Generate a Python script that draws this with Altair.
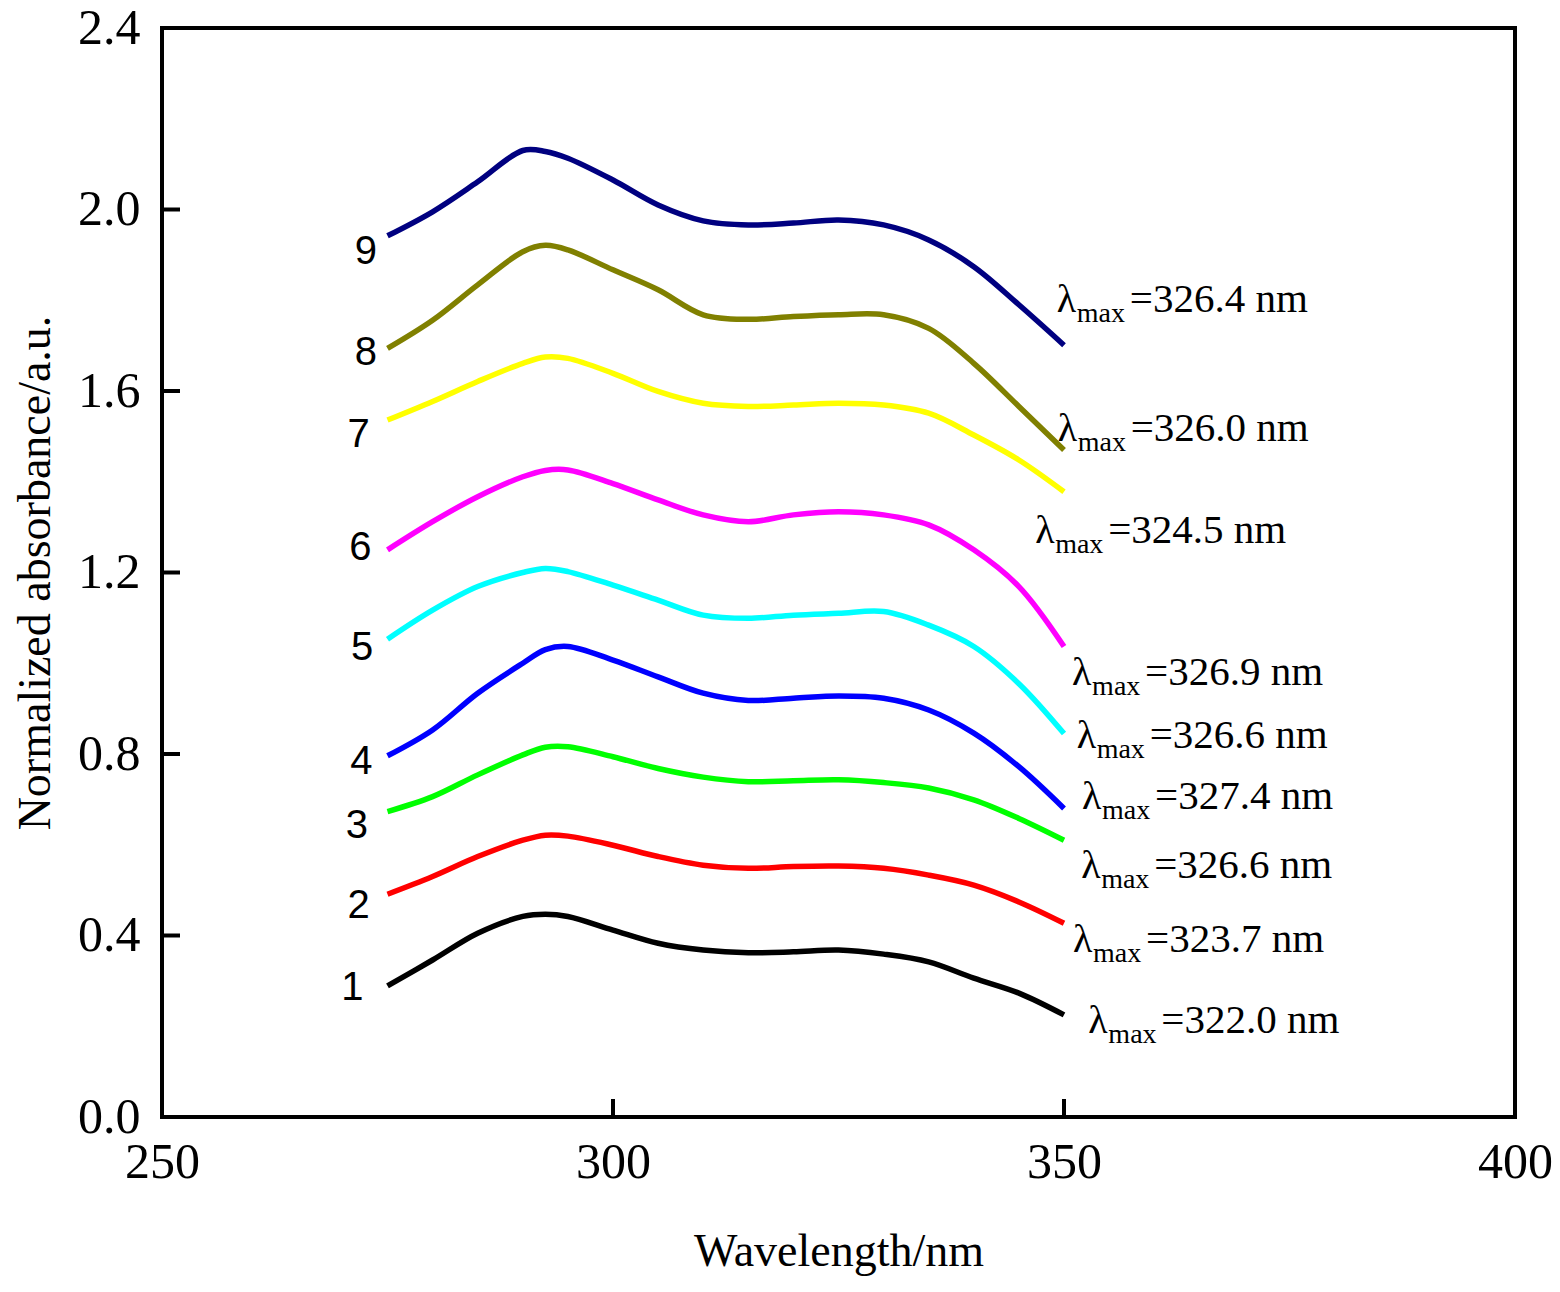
import pandas as pd
import altair as alt

# wavelength grid (nm)
wavelength = [275, 280, 285, 290, 292.5, 295, 300, 305, 310, 315, 320, 325, 330, 335, 340, 345, 350]

# normalized absorbance of each spectrum (curve 1 at the bottom ... 9 at the top)
s1 = [0.289, 0.346, 0.405, 0.442, 0.447, 0.442, 0.412, 0.383, 0.368, 0.362, 0.364, 0.368, 0.359, 0.342, 0.306, 0.273, 0.225]
s2 = [0.491, 0.530, 0.574, 0.610, 0.621, 0.619, 0.599, 0.574, 0.555, 0.548, 0.552, 0.553, 0.548, 0.533, 0.511, 0.474, 0.427]
s3 = [0.673, 0.706, 0.754, 0.798, 0.815, 0.816, 0.794, 0.768, 0.749, 0.739, 0.741, 0.743, 0.737, 0.725, 0.699, 0.658, 0.610]
s4 = [0.796, 0.853, 0.934, 1.000, 1.030, 1.037, 1.007, 0.970, 0.934, 0.918, 0.923, 0.928, 0.923, 0.897, 0.846, 0.772, 0.680]
s5 = [1.053, 1.117, 1.169, 1.200, 1.209, 1.202, 1.172, 1.139, 1.106, 1.099, 1.106, 1.110, 1.114, 1.084, 1.037, 0.955, 0.845]
s6 = [1.250, 1.312, 1.367, 1.411, 1.425, 1.426, 1.396, 1.360, 1.327, 1.312, 1.327, 1.334, 1.327, 1.305, 1.250, 1.169, 1.037]
s7 = [1.536, 1.577, 1.621, 1.661, 1.675, 1.672, 1.639, 1.599, 1.573, 1.566, 1.569, 1.573, 1.569, 1.551, 1.503, 1.448, 1.378]
s8 = [1.694, 1.756, 1.834, 1.907, 1.921, 1.911, 1.867, 1.823, 1.768, 1.758, 1.764, 1.768, 1.768, 1.738, 1.661, 1.566, 1.470]
s9 = [1.942, 1.995, 2.061, 2.130, 2.128, 2.113, 2.065, 2.010, 1.975, 1.966, 1.970, 1.977, 1.966, 1.933, 1.874, 1.790, 1.701]

series = [s1, s2, s3, s4, s5, s6, s7, s8, s9]
names = ['1', '2', '3', '4', '5', '6', '7', '8', '9']
colors = ['#000000', '#ff0000', '#00ff00', '#0000ff', '#00ffff', '#ff00ff', '#ffff00', '#808000', '#000080']

# curve number labels (left of each curve)
num_x = [271.1, 271.8, 271.6, 272.1, 272.2, 272.0, 271.8, 272.6, 272.6]
num_y = [0.284, 0.465, 0.641, 0.782, 1.034, 1.254, 1.503, 1.684, 1.906]

# lambda max annotations (left edge / baseline)
lam_val = ['322.0', '323.7', '326.6', '327.4', '326.6', '326.9', '324.5', '326.0', '326.4']
lam_x = [352.7, 351.0, 351.9, 352.0, 351.4, 350.9, 346.8, 349.3, 349.2]
lam_y = [0.185, 0.364, 0.527, 0.679, 0.813, 0.952, 1.265, 1.490, 1.774]

x_ticks = [300, 350]
y_ticks = [0.4, 0.8, 1.2, 1.6, 2.0]

rows = []
for n, s in zip(names, series):
    for w, v in zip(wavelength, s):
        rows.append({'curve': n, 'wl': w, 'abs': v})
df = pd.DataFrame(rows)

W, H = 1353, 1089
xscale = alt.Scale(domain=[250, 400], nice=False, zero=False)
yscale = alt.Scale(domain=[0, 2.4], nice=False)
serif = 'Liberation Serif'

# same axis objects on every layer so they merge into one
xaxis = alt.Axis(values=[250, 300, 350, 400], format='d', title='Wavelength/nm',
                 labelPadding=20, titlePadding=42, labelFlush=False)
yaxis = alt.Axis(values=[0, 0.4, 0.8, 1.2, 1.6, 2.0, 2.4], format='.1f',
                 title='Normalized absorbance/a.u.', labelPadding=22, titlePadding=18,
                 labelFlush=False)

lines = alt.Chart(df).mark_line(strokeWidth=5.5, interpolate='catmull-rom').encode(
    x=alt.X('wl:Q', scale=xscale, axis=xaxis),
    y=alt.Y('abs:Q', scale=yscale, axis=yaxis),
    color=alt.Color('curve:N', scale=alt.Scale(domain=names, range=colors), legend=None),
    detail='curve:N'
)

ytick = alt.Chart(pd.DataFrame({'v': y_ticks})).mark_rule(color='black', strokeWidth=4).encode(
    y=alt.Y('v:Q', scale=yscale, axis=yaxis),
    x=alt.value(0), x2=alt.value(18)
)
xtick = alt.Chart(pd.DataFrame({'v': x_ticks})).mark_rule(color='black', strokeWidth=4).encode(
    x=alt.X('v:Q', scale=xscale, axis=xaxis),
    y=alt.value(H), y2=alt.value(H - 18)
)

nums = alt.Chart(pd.DataFrame({'lab': names, 'x': num_x, 'y': num_y})).mark_text(
    font='Liberation Sans', fontSize=40, align='center', baseline='middle', color='black'
).encode(
    x=alt.X('x:Q', scale=xscale, axis=xaxis),
    y=alt.Y('y:Q', scale=yscale, axis=yaxis),
    text='lab:N'
)

lam_df = pd.DataFrame({'val': lam_val, 'x': lam_x, 'y': lam_y})
lam_df['rest'] = '=' + lam_df['val'] + ' nm'
lam_base = alt.Chart(lam_df).encode(
    x=alt.X('x:Q', scale=xscale, axis=xaxis),
    y=alt.Y('y:Q', scale=yscale, axis=yaxis)
)
lam = lam_base.mark_text(font=serif, fontSize=40, align='left', baseline='alphabetic',
                         color='black', text='λ')
sub = lam_base.mark_text(font=serif, fontSize=28, align='left', baseline='alphabetic',
                         color='black', dx=20, dy=10, text='max')
rest = lam_base.mark_text(font=serif, fontSize=41, align='left', baseline='alphabetic',
                          color='black', dx=73).encode(text='rest:N')

chart = alt.layer(lines, ytick, xtick, nums, lam, sub, rest).properties(
    width=W, height=H,
    autosize=alt.AutoSizeParams(type='none'),
    padding={'left': 154, 'top': 20, 'right': 37, 'bottom': 167}
).configure_view(
    stroke='black', strokeWidth=4
).configure_axis(
    domain=False, ticks=False, grid=False,
    labelFont=serif, labelFontSize=50, labelColor='black',
    titleFont=serif, titleFontSize=46, titleFontWeight='normal', titleColor='black'
)

chart.save('out.html', embed_options={'renderer': 'svg', 'actions': False})
